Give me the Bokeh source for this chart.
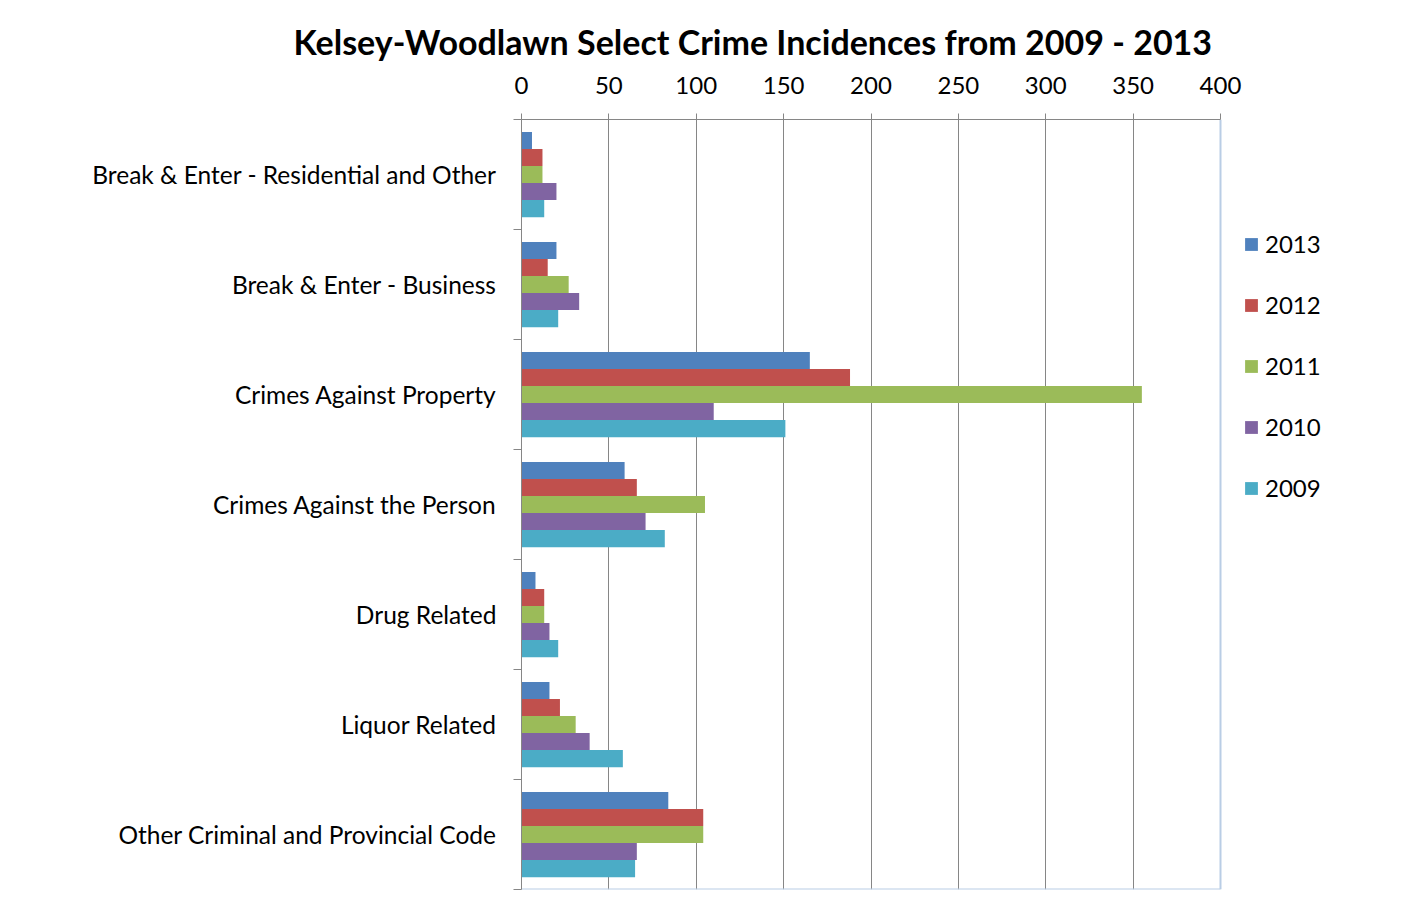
from bokeh.plotting import figure
from bokeh.models import Range1d, FixedTicker, Legend, LegendItem
from bokeh.embed import file_html
from bokeh.resources import INLINE

categories = [
    "Break & Enter - Residential and Other",
    "Break & Enter - Business",
    "Crimes Against Property",
    "Crimes Against the Person",
    "Drug Related",
    "Liquor Related",
    "Other Criminal and Provincial Code",
]
years = ["2013", "2012", "2011", "2010", "2009"]
v2013 = [6, 20, 165, 59, 8, 16, 84]
v2012 = [12, 15, 188, 66, 13, 22, 104]
v2011 = [12, 27, 355, 105, 13, 31, 104]
v2010 = [20, 33, 110, 71, 16, 39, 66]
v2009 = [13, 21, 151, 82, 21, 58, 65]
series = [v2013, v2012, v2011, v2010, v2009]
colors = ["#4F81BD", "#C0504D", "#9BBB59", "#8064A2", "#4BACC6"]
x_ticks = [0, 50, 100, 150, 200, 250, 300, 350, 400]
x_max = 400
title_text = "Kelsey-Woodlawn Select Crime Incidences from 2009 - 2013"

FONT = "Lato"
n = len(categories)
bar_h = 0.155

W, H = 1398, 908
left_b, top_b, bot_b = 521, 119, 19
plot_px = 699  # pixel width of the 0..400 plot area
frame_w = W - left_b
x_end = x_max * frame_w / plot_px  # frame extends right to host the legend

p = figure(width=W, height=H, x_range=Range1d(0, x_end), y_range=Range1d(n, 0),
           x_axis_location="above", output_backend="svg", toolbar_location=None,
           min_border_left=left_b, min_border_right=0, min_border_top=top_b, min_border_bottom=bot_b)
p.background_fill_color = "white"
p.border_fill_color = "white"
p.outline_line_color = None

renderers = []
for j, (vals, col) in enumerate(zip(series, colors)):
    ys = [i + 0.5 + (j - 2) * bar_h for i in range(n)]
    r = p.hbar(y=ys, right=vals, left=0, height=bar_h, fill_color=col, line_color=None)
    renderers.append(r)

# plot-area border (right and bottom), light blue like the original
p.segment(x0=[x_max, 0], y0=[0, n], x1=[x_max, x_max], y1=[n, n], line_color="#B9CDE5", line_width=2)

# title
p.title.text = title_text
p.title.align = "left"
p.title.offset = -228
p.title.text_font = FONT
p.title.text_font_style = "bold"
p.title.text_font_size = "34px"
p.title.text_color = "black"
p.title.standoff = 24

# x axis (top)
xa = p.xaxis[0]
xa.ticker = FixedTicker(ticks=x_ticks, minor_ticks=[])
xa.bounds = (0, x_max)
xa.axis_line_color = "#868686"
xa.major_tick_line_color = "#868686"
xa.major_tick_out = 6
xa.major_tick_in = 0
xa.minor_tick_out = 0
xa.minor_tick_in = 0
xa.major_label_text_font = FONT
xa.major_label_text_font_size = "24px"
xa.major_label_text_color = "black"
xa.major_label_standoff = 20

p.xgrid.ticker = FixedTicker(ticks=x_ticks[:-1])
p.xgrid.grid_line_color = "#868686"
p.ygrid.visible = False

# y axis (categories)
ya = p.yaxis[0]
ya.ticker = FixedTicker(ticks=[i + 0.5 for i in range(n)], minor_ticks=list(range(n + 1)))
ya.major_label_overrides = {i + 0.5: c for i, c in enumerate(categories)}
ya.axis_line_color = "#868686"
ya.major_tick_out = 0
ya.major_tick_in = 0
ya.minor_tick_out = 8
ya.minor_tick_in = 0
ya.minor_tick_line_color = "#868686"
ya.major_label_text_font = FONT
ya.major_label_text_font_size = "24.5px"
ya.major_label_text_color = "black"
ya.major_label_standoff = 17

legend = Legend(items=[LegendItem(label=y, renderers=[r]) for y, r in zip(years, renderers)],
                location=(722, 387), orientation="vertical",
                glyph_width=16, glyph_height=16, label_height=26, spacing=32,
                label_text_font=FONT, label_text_font_size="24px", label_text_color="black",
                label_standoff=6, padding=0, margin=0,
                border_line_color=None, background_fill_alpha=0)
p.add_layout(legend, "center")

open("out.html", "w").write(file_html(p, INLINE))
